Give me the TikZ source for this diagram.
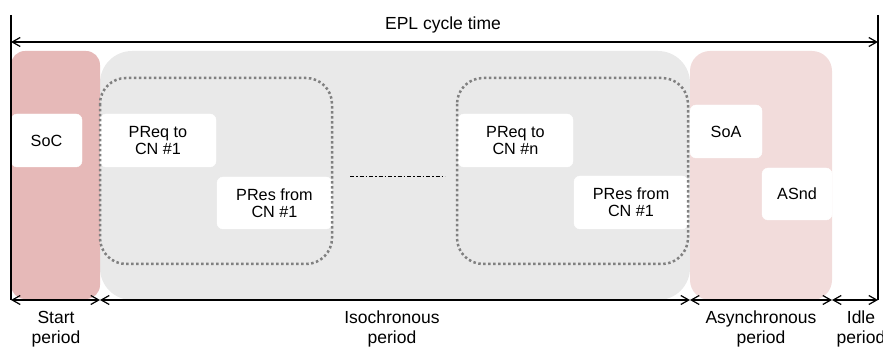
\documentclass[tikz,border=0pt]{standalone}
\usepackage{fontspec}
\setmainfont{Liberation Sans}
\usetikzlibrary{arrows.meta}
\definecolor{startpink}{HTML}{E6B9B8}
\definecolor{asyncpink}{HTML}{F2DCDB}
\definecolor{isogray}{HTML}{E9E9E9}
\definecolor{dotgray}{HTML}{808080}
\tikzset{
  frame/.style={draw=white,fill=white,rounded corners=6pt,inner sep=0pt,align=center,
    font=\fontsize{16.2}{17}\selectfont},
  period/.style={align=center,font=\fontsize{17.5}{20}\selectfont,inner sep=0pt},
  span/.style={line width=1.2pt,{Straight Barb[length=8pt,width=9pt]}-{Straight Barb[length=8pt,width=9pt]}},
  group/.style={draw=dotgray,line width=2.5pt,dash pattern=on 2.5pt off 2.5pt,rounded corners=26pt},
}
\begin{document}
\begin{tikzpicture}[x=1pt,y=-1pt]
\useasboundingbox (0,0) rectangle (883,347);

% period backgrounds
\fill[isogray,rounded corners=32pt] (100,51) rectangle (690,300);
\fill[startpink,rounded corners=14pt] (11,51) rectangle (100,299);
\fill[asyncpink,rounded corners=20pt] (690,51) rectangle (832,300);

% frames
\node[frame,minimum width=71pt,minimum height=53pt] (soc) at (46.5,140.5) {SoC};
\node[frame,minimum width=116pt,minimum height=53pt] (preq1) at (158,140.5) {PReq to\\CN \#1};
\node[frame,minimum width=115pt,minimum height=52pt] (pres1) at (274.5,203) {PRes from\\CN \#1};
\node[frame,minimum width=115pt,minimum height=53pt] (preqn) at (515.5,140.5) {PReq to\\CN \#n};
\node[frame,minimum width=114pt,minimum height=53pt] (presn) at (631,202.5) {PRes from\\CN \#1};
\node[frame,minimum width=72pt,minimum height=53pt] (soa) at (726,131.5) {SoA};
\node[frame,minimum width=70pt,minimum height=52pt] (asnd) at (797,194) {ASnd};

% request/response groups
\draw[group] (100,78) rectangle (332,264);
\draw[group] (457,78) rectangle (688,264);

% continuation between the groups
\coordinate (gapA) at (350,176);
\coordinate (gapB) at (445,176);
\draw[line width=0.9pt,dash pattern=on 4pt off 2pt on 1.5pt off 2pt] (gapA) -- (gapB);

% cycle boundaries
\coordinate (lt) at (11,15);
\coordinate (lb) at (11,300);
\coordinate (rt) at (878,15);
\coordinate (rb) at (878,300);
\draw[line width=1.4pt] (lt) -- (lb);
\draw[line width=1.4pt] (rt) -- (rb);

% cycle time
\coordinate (cl) at (11,42);
\coordinate (cr) at (878,42);
\draw[span] (cl) -- (cr);
\node[period,anchor=base] (cycle) at (443,30) {EPL cycle time};

% period spans
\coordinate (p0) at (11,300);
\coordinate (p1) at (100,300);
\coordinate (p2) at (690,300);
\coordinate (p3) at (832,300);
\coordinate (p4) at (878,300);
\draw[span] (p0) -- (p1);
\draw[span] (p1) -- (p2);
\draw[span] (p2) -- (p3);
\draw[span] (p3) -- (p4);

\node[period,anchor=north] (lstart) at (56,311) {Start\\period};
\node[period,anchor=north] (liso) at (392,311) {Isochronous\\period};
\node[period,anchor=north] (lasync) at (761,311) {Asynchronous\\period};
\node[period,anchor=north] (lidle) at (861,311) {Idle\\period};
\end{tikzpicture}
\end{document}
